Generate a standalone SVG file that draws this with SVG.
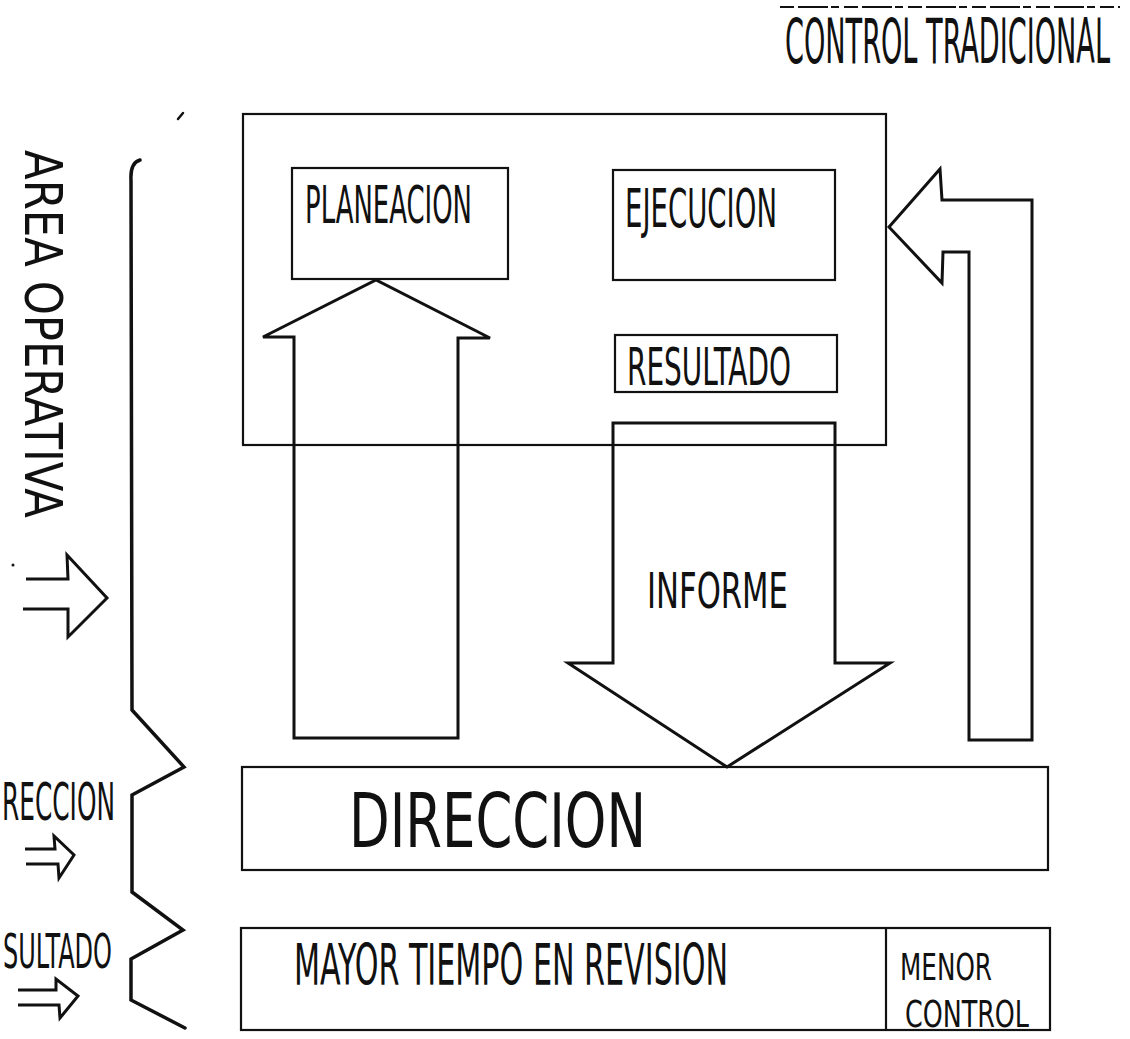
<svg xmlns="http://www.w3.org/2000/svg" width="1130" height="1039" viewBox="0 0 1130 1039">
<style>
.bg{fill:#fff}
.box{fill:none;stroke:#111;stroke-width:2.2;stroke-linejoin:miter}
.arr{fill:none;stroke:#111;stroke-width:3;stroke-linejoin:miter}
.ln{fill:none;stroke:#111;stroke-width:3.5;stroke-linejoin:miter;stroke-linecap:round}
.t{font-family:"DejaVu Sans Condensed","Liberation Sans Narrow","Liberation Sans",sans-serif;fill:#111;font-weight:normal}
.dash{stroke:#111;stroke-width:2;stroke-dasharray:14 4 30 3 8 5}
</style>
<rect class="bg" x="0" y="0" width="1130" height="1039"/>

<g id="title">
  <line class="dash" x1="780" y1="7" x2="1120" y2="7"/>
  <text class="t" transform="translate(785,63) scale(1,2.17)" font-size="28.5" textLength="325" lengthAdjust="spacingAndGlyphs">CONTROL TRADICIONAL</text>
</g>

<g id="area-operativa-label">
  <text class="t" transform="translate(25,150) rotate(90) scale(1,1.14)" font-size="44.7" textLength="368" lengthAdjust="spacingAndGlyphs">AREA OPERATIVA</text>
  <path class="arr" d="M26 579 L68 579 L67 555 L107 598 L68 637 L68 609 L23 609"/>
  <circle cx="13" cy="565" r="1.5" fill="#111"/>
</g>

<g id="direccion-label">
  <text class="t" transform="translate(2,820) scale(1,1.94)" font-size="26.2" textLength="113" lengthAdjust="spacingAndGlyphs">RECCION</text>
  <path class="arr" d="M25 849 L55 849 L54 836 L74 855 L59 878 L58 864 L26 864"/>
</g>

<g id="resultado-label">
  <text class="t" transform="translate(3,968) scale(1,2)" font-size="24" textLength="109" lengthAdjust="spacingAndGlyphs">SULTADO</text>
  <path class="arr" d="M18 990 L56 990 L56 979 L78 996 L60 1018 L59 1005 L18 1005"/>
</g>

<g id="bracket">
  <path class="ln" d="M140 160 Q130 163 131 180 L132 710 L184 767 L132 795 L132 892 L183 930 L131 959 L131 1000 L185 1028"/>
  <line x1="178" y1="119" x2="183" y2="113" stroke="#111" stroke-width="2.5" stroke-linecap="round"/>
</g>

<g id="area-operativa">
  <rect class="box" x="243" y="114" width="643" height="331"/>
</g>

<g id="planeacion">
  <rect class="box" x="292" y="168" width="216" height="111"/>
  <text class="t" transform="translate(305,223) scale(1,1.9)" font-size="27.4" textLength="167" lengthAdjust="spacingAndGlyphs">PLANEACION</text>
</g>

<g id="ejecucion">
  <rect class="box" x="613" y="170" width="222" height="110"/>
  <text class="t" transform="translate(625,227) scale(1,1.85)" font-size="29" textLength="152" lengthAdjust="spacingAndGlyphs">EJECUCION</text>
</g>

<g id="resultado">
  <rect class="box" x="615" y="335" width="222" height="57"/>
  <text class="t" transform="translate(627,385) scale(1,1.84)" font-size="28.4" textLength="164" lengthAdjust="spacingAndGlyphs">RESULTADO</text>
</g>

<g id="direccion">
  <rect class="box" x="242" y="767" width="806" height="103"/>
  <text class="t" transform="translate(349,847) scale(1,1.35)" font-size="55.8" textLength="297" lengthAdjust="spacingAndGlyphs">DIRECCION</text>
</g>

<g id="revision">
  <rect class="box" x="241" y="928" width="809" height="102"/>
  <line class="box" x1="886" y1="928" x2="886" y2="1030"/>
  <text class="t" transform="translate(294,985) scale(1,1.83)" font-size="31.5" textLength="434" lengthAdjust="spacingAndGlyphs">MAYOR TIEMPO EN REVISION</text>
  <text class="t" transform="translate(900,980) scale(1,1.45)" font-size="26" textLength="92" lengthAdjust="spacingAndGlyphs">MENOR</text>
  <text class="t" transform="translate(905,1027) scale(1,1.4)" font-size="26.8" textLength="124" lengthAdjust="spacingAndGlyphs">CONTROL</text>
</g>

<g id="connectors">
  <path id="arrow-up-planeacion" class="arr" d="M294 738 L294 337 L263 337 L376 280 L490 338 L458 338 L458 738 Z"/>
  <path id="arrow-informe" class="arr" d="M613 423 L835 423 L835 663 L890 663 L727 767 L568 663 L613 663 Z"/>
  <text class="t" transform="translate(647,608) scale(1,1.53)" font-size="32.3" textLength="141" lengthAdjust="spacingAndGlyphs">INFORME</text>
  <path id="arrow-feedback" class="arr" d="M889 227 L940 169 L942 200 L1032 200 L1032 740 L969 740 L969 252 L943 252 L942 283 Z"/>
</g>
</svg>
